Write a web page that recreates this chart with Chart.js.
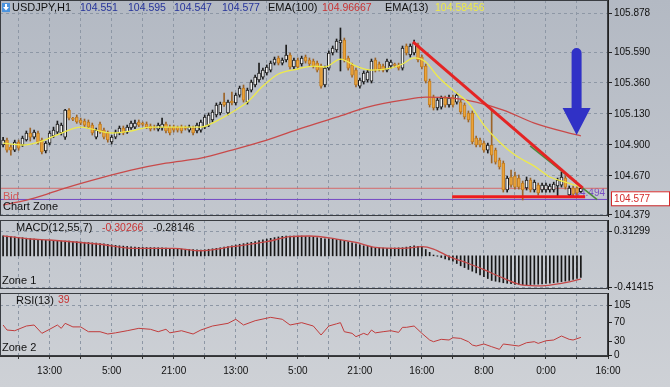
<!DOCTYPE html>
<html>
<head>
<meta charset="utf-8">
<script src="https://cdn.jsdelivr.net/npm/chart.js@4.4.1/dist/chart.umd.min.js"></script>
<style>
  html, body { margin: 0; padding: 0; }
  #wrap { position: relative; width: 670px; height: 387px; overflow: hidden;
          background: linear-gradient(#b3b9c3, #ced1d6); }
  canvas { position: absolute; left: 0; }
</style>
</head>
<body>
<div id="wrap">
  <canvas id="main" width="670" height="219" style="top:0"></canvas>
  <canvas id="macd" width="670" height="75" style="top:217px"></canvas>
  <canvas id="rsi" width="670" height="95" style="top:292px"></canvas>
</div>
<script>
// ---- data (USDJPY H1) ----
const opens = [
  104.899,104.936,104.884,104.861,104.921,104.899,104.936,104.988,104.958,104.988,
  104.936,104.854,104.913,104.966,104.995,104.988,104.958,105.159,105.092,105.107,
  105.085,105.077,105.070,105.047,104.958,105.055,105.010,104.988,104.921,104.958,
  104.988,105.025,104.995,105.025,105.032,105.070,105.055,105.055,105.040,105.032,
  105.017,105.025,105.055,105.032,105.032,105.032,105.032,105.025,105.010,105.025,
  105.003,105.010,105.032,105.047,105.085,105.122,105.137,105.218,105.137,105.226,
  105.211,105.270,105.322,105.218,105.307,105.345,105.382,105.404,105.434,105.456,
  105.508,105.546,105.508,105.531,105.568,105.479,105.531,105.501,105.553,105.531,
  105.523,105.508,105.486,105.345,105.471,105.583,105.605,105.657,105.679,105.546,
  105.494,105.456,105.337,105.367,105.382,105.374,105.531,105.501,105.486,105.456,
  105.486,105.494,105.494,105.471,105.635,105.568,105.583,105.642,105.553,105.486,
  105.374,105.255,105.174,105.181,105.248,105.196,105.255,105.218,105.218,105.196,
  105.137,105.137,104.951,104.936,104.913,104.861,104.899,104.861,104.787,104.765,
  104.564,104.661,104.668,104.653,104.616,104.579,104.638,104.564,104.601,104.564,
  104.564,104.564,104.564,104.594,104.601,104.653,104.527,104.579,104.579,104.551
];
const highs = [
  104.955,104.950,104.900,104.935,104.936,104.965,105.003,105.025,105.010,105.003,
  104.950,104.925,105.003,105.032,105.077,105.062,105.165,105.170,105.105,105.122,
  105.099,105.092,105.085,105.062,105.025,105.070,105.025,105.003,104.970,105.010,
  105.040,105.040,105.047,105.077,105.085,105.085,105.070,105.070,105.055,105.047,
  105.062,105.099,105.070,105.047,105.047,105.040,105.047,105.040,105.047,105.040,
  105.062,105.085,105.122,105.137,105.159,105.211,105.218,105.285,105.233,105.293,
  105.285,105.337,105.345,105.322,105.382,105.419,105.508,105.471,105.494,105.523,
  105.553,105.560,105.546,105.642,105.583,105.546,105.546,105.560,105.568,105.546,
  105.538,105.523,105.501,105.486,105.598,105.635,105.687,105.769,105.694,105.560,
  105.508,105.471,105.397,105.449,105.456,105.538,105.546,105.516,105.501,105.538,
  105.531,105.508,105.508,105.635,105.650,105.650,105.679,105.657,105.568,105.501,
  105.389,105.270,105.248,105.263,105.263,105.270,105.270,105.285,105.233,105.211,
  105.152,105.152,104.966,104.951,104.928,104.913,105.159,104.876,104.802,104.780,
  104.668,104.713,104.698,104.676,104.631,104.661,104.653,104.638,104.616,104.616,
  104.616,104.609,104.623,104.653,104.698,104.668,104.594,104.594,104.594,104.595
];
const lows = [
  104.885,104.845,104.824,104.850,104.860,104.888,104.928,104.928,104.945,104.906,
  104.832,104.840,104.900,104.955,104.980,104.973,104.940,105.085,105.080,105.060,
  105.050,105.035,105.020,104.973,104.945,104.985,104.945,104.920,104.906,104.945,
  104.975,104.975,104.985,105.015,105.020,105.035,105.040,105.020,105.003,105.010,
  105.003,105.010,104.988,104.973,104.995,104.995,104.988,105.010,104.995,104.973,
  104.988,104.995,105.020,105.035,105.070,105.107,105.122,105.185,105.122,105.196,
  105.196,105.255,105.218,105.203,105.293,105.330,105.367,105.389,105.419,105.442,
  105.494,105.494,105.494,105.516,105.464,105.464,105.464,105.486,105.508,105.486,
  105.471,105.442,105.322,105.330,105.456,105.568,105.590,105.449,105.516,105.456,
  105.404,105.330,105.322,105.352,105.367,105.360,105.442,105.449,105.442,105.442,
  105.471,105.479,105.456,105.456,105.568,105.553,105.568,105.516,105.464,105.360,
  105.181,105.159,105.159,105.166,105.181,105.181,105.181,105.203,105.129,105.092,
  105.070,104.906,104.884,104.884,104.846,104.839,104.765,104.757,104.720,104.549,
  104.549,104.586,104.571,104.571,104.490,104.564,104.549,104.549,104.527,104.549,
  104.549,104.549,104.549,104.512,104.586,104.571,104.512,104.520,104.527,104.547
];
const closes = [
  104.936,104.861,104.861,104.921,104.876,104.951,104.988,104.958,104.995,104.921,
  104.847,104.913,104.988,105.010,105.055,105.047,105.159,105.099,105.090,105.070,
  105.062,105.047,105.032,104.988,105.010,104.995,104.958,104.936,104.958,104.995,
  105.025,104.988,105.032,105.062,105.062,105.047,105.052,105.032,105.017,105.025,
  105.047,105.055,105.003,104.988,105.010,105.010,105.003,105.022,105.032,104.988,
  105.047,105.070,105.107,105.122,105.144,105.196,105.203,105.196,105.218,105.211,
  105.270,105.322,105.233,105.307,105.367,105.404,105.434,105.456,105.479,105.508,
  105.538,105.508,105.531,105.568,105.479,105.531,105.479,105.546,105.523,105.501,
  105.486,105.456,105.337,105.471,105.583,105.620,105.672,105.679,105.531,105.471,
  105.419,105.345,105.382,105.434,105.442,105.523,105.456,105.464,105.456,105.523,
  105.516,105.491,105.471,105.620,105.583,105.635,105.657,105.531,105.479,105.374,
  105.196,105.174,105.233,105.248,105.196,105.248,105.196,105.270,105.144,105.107,
  105.085,104.921,104.899,104.899,104.861,104.899,104.824,104.772,104.735,104.564,
  104.653,104.601,104.586,104.586,104.564,104.638,104.564,104.623,104.542,104.601,
  104.601,104.594,104.609,104.638,104.661,104.586,104.579,104.534,104.542,104.577
];

// moving averages (bar index -> value)
const ema13Idx = [0,5,10,15,20,23,28,33,38,44,51,55,60,63,67,71,76,80,83,87,91,95,100,103,106,109,112,116,120,124,128,132,137,141,145,149];
const ema13Val = [104.913,104.899,104.928,104.988,105.032,105.017,104.988,105.003,105.032,105.032,105.032,105.077,105.159,105.218,105.337,105.427,105.464,105.486,105.479,105.538,105.486,105.456,105.471,105.501,105.546,105.516,105.412,105.307,105.211,105.047,104.921,104.824,104.742,104.661,104.623,104.585];
const ema100Idx = [0,8,16,25,33,42,51,59,68,77,86,94,103,109,116,122,129,137,146,149];
const ema100Val = [104.452,104.504,104.579,104.653,104.712,104.764,104.801,104.861,104.935,105.024,105.106,105.180,105.232,105.255,105.248,105.218,105.159,105.062,104.988,104.967];

// MACD(12,55,7): histogram per bar, signal line sampled
const macdHist = [
  0.260,0.255,0.250,0.245,0.240,0.235,0.229,0.223,0.217,0.211,
  0.205,0.202,0.199,0.196,0.193,0.190,0.192,0.190,0.186,0.183,
  0.180,0.176,0.172,0.168,0.164,0.160,0.154,0.148,0.142,0.136,
  0.130,0.126,0.122,0.118,0.114,0.110,0.109,0.108,0.107,0.106,
  0.105,0.103,0.100,0.097,0.094,0.091,0.088,0.085,0.083,0.080,
  0.077,0.075,0.079,0.085,0.091,0.097,0.104,0.112,0.121,0.130,
  0.140,0.150,0.158,0.167,0.175,0.186,0.197,0.208,0.218,0.227,
  0.236,0.245,0.253,0.255,0.256,0.257,0.257,0.257,0.252,0.246,
  0.240,0.235,0.228,0.222,0.220,0.218,0.212,0.205,0.194,0.183,
  0.170,0.157,0.143,0.130,0.122,0.113,0.105,0.102,0.099,0.097,
  0.099,0.101,0.103,0.105,0.113,0.121,0.130,0.124,0.118,0.082,
  0.045,0.010,-0.005,-0.022,-0.040,-0.055,-0.070,-0.100,-0.130,-0.153,
  -0.177,-0.200,-0.223,-0.247,-0.270,-0.295,-0.320,-0.330,-0.340,-0.350,
  -0.357,-0.363,-0.370,-0.372,-0.374,-0.375,-0.373,-0.370,-0.368,-0.365,
  -0.360,-0.355,-0.350,-0.343,-0.335,-0.328,-0.320,-0.307,-0.294,-0.281
];
const sigIdx = [0,7,12,25,34,44,51,59,68,74,79,86,91,96,103,108,111,115,120,124,129,134,139,144,149];
const sigVal = [0.26,0.218,0.205,0.15,0.097,0.097,0.066,0.118,0.183,0.248,0.257,0.218,0.175,0.11,0.097,0.118,0.088,-0.01,-0.1,-0.18,-0.29,-0.38,-0.39,-0.357,-0.303];

// RSI(13)
const rsiIdx = [0,1,3,6,8,10,12,14,15,16,18,20,22,25,27,29,32,35,38,40,42,43,46,49,51,54,58,60,62,65,69,72,74,77,80,82,84,86,87,88,90,91,93,94,95,96,98,100,102,103,104,106,108,110,111,113,115,116,118,120,121,122,124,126,128,129,131,133,135,137,138,140,142,144,146,147,149];
const rsiVal = [64.5,54,52.5,62.4,64.5,47,55.5,64.5,57.5,68,60.5,60.5,50.4,50.4,45.6,48,52.5,57.5,55.5,50.4,55.5,48,52.5,45.6,54,62.4,68,76.5,64.5,73.5,80.6,76.5,64.5,69.4,62.4,43.5,62.4,67,69.4,50.4,47,40,47,43.5,54,48,50.4,52.5,49,59.6,59.6,62.4,47,33,29.4,34.4,33,37.8,36.4,29.4,22.5,20.4,24.6,18.9,13.4,24.6,22.5,20.4,27.3,29.4,25.9,31.4,33,41.4,34.4,33,38.5];

// axes
const gridIdx = [4,12,20,28,36,44,52,60,68,76,84,92,100,108,116,124,132,140,148,156];
const xTickIdx = [12,28,44,60,76,92,108,124,140,156];
const xTickLbl = ['13:00','5:00','21:00','13:00','5:00','21:00','16:00','8:00','0:00','16:00'];
const priceTicks = [104.379,104.670,104.900,105.130,105.360,105.590,105.878];
const macdTicks = [-0.41415,0.31299];
const rsiTicks = [0,30,70,105];

// drawn objects on the price panel
const bidPrice = 104.577;
const levelPrice = 104.494;
const supportPrice = 104.514;
const supportSpan = [115.8, 150.1];
const trendRed = [[105.7, 105.665], [149.5, 104.579]];
const trendGreen = [[135.9, 104.893], [153.2, 104.493]];
const arrowAt = { x: 147.9, top: 105.62, head: 105.174, tip: 104.973 };

// ---- chart setup ----
Chart.defaults.font.family = "'Liberation Sans', Arial, sans-serif";
Chart.defaults.font.size = 10;
Chart.defaults.color = '#111';

const GRID = '#8d97a5';
const pts = (xs, ys) => xs.map((x, k) => ({ x: x, y: ys[k] }));
const isUp = closes.map((c, i) => c >= opens[i]);

function xAxis(showLabels) {
  return {
    type: 'linear', min: -0.8, max: 156, offset: false,
    afterBuildTicks: s => { s.ticks = gridIdx.map(v => ({ value: v })); },
    ticks: {
      display: showLabels, autoSkip: false, maxRotation: 0, padding: 6,
      callback: v => { const k = xTickIdx.indexOf(v); return k < 0 ? '' : xTickLbl[k]; }
    },
    grid: { color: GRID, offset: false, drawTicks: showLabels, tickLength: 3, tickColor: '#333' },
    border: { display: showLabels, color: '#333', dash: [3, 3] },
    afterFit: s => { s.height = showLabels ? 31 : 0; s.paddingLeft = 0; s.paddingRight = 0; }
  };
}

function yAxis(min, max, ticks, fmt, gridColor) {
  return {
    position: 'right', min: min, max: max,
    afterBuildTicks: s => { s.ticks = ticks.map(v => ({ value: v })); },
    ticks: { callback: fmt, padding: 2, autoSkip: false },
    grid: { color: gridColor || GRID, tickLength: 4, tickColor: '#222' },
    border: { color: '#222', dash: [3, 3] },
    afterFit: s => { s.width = 62; s.paddingTop = 0; s.paddingBottom = 0; }
  };
}

const frame = {
  id: 'frame',
  afterDraw(c) {
    const a = c.chartArea, ctx = c.ctx;
    ctx.save();
    ctx.strokeStyle = '#3a3d42';
    ctx.lineWidth = 1;
    ctx.strokeRect(a.left + 0.5, a.top + 0.5, a.right - a.left - 1, a.bottom - a.top - 1);
    ctx.restore();
  }
};

function label(ctx, text, x, y, color, size) {
  ctx.font = size + "px 'Liberation Sans', Arial, sans-serif";
  ctx.fillStyle = color;
  ctx.textBaseline = 'middle';
  ctx.fillText(text, x, y);
}

const baseOpts = (pad) => ({
  responsive: false, animation: false, events: [], devicePixelRatio: 1,
  layout: { padding: pad },
  plugins: { legend: { display: false }, tooltip: { enabled: false } }
});

// ---- price panel ----
const priceDecor = {
  id: 'priceDecor',
  beforeDatasetsDraw(c) {
    const ctx = c.ctx, y = c.scales.y;
    ctx.save();
    ctx.textAlign = 'right';
    label(ctx, levelPrice.toFixed(3), 605, y.getPixelForValue(levelPrice) - 6, '#7a4fc4', 10);
    ctx.restore();
  },
  afterDatasetsDraw(c) {
    // blue arrow
    const ctx = c.ctx, xs = c.scales.x, ys = c.scales.y;
    const ax = xs.getPixelForValue(arrowAt.x);
    const top = ys.getPixelForValue(arrowAt.top);
    const head = ys.getPixelForValue(arrowAt.head);
    const tip = ys.getPixelForValue(arrowAt.tip);
    ctx.save();
    ctx.fillStyle = '#3031c6';
    ctx.beginPath();
    ctx.arc(ax, top + 5, 5, Math.PI, 0);
    ctx.lineTo(ax + 5, head);
    ctx.lineTo(ax + 14, head);
    ctx.lineTo(ax, tip);
    ctx.lineTo(ax - 14, head);
    ctx.lineTo(ax - 5, head);
    ctx.closePath();
    ctx.fill();
    ctx.restore();
  },
  afterDraw(c) {
    const ctx = c.ctx, ys = c.scales.y;
    ctx.save();
    // symbol icon
    ctx.fillStyle = '#4a93de';
    ctx.fillRect(2, 3, 8, 9);
    ctx.fillStyle = '#fff';
    ctx.fillRect(5, 4, 2, 3);
    ctx.beginPath();
    ctx.moveTo(3, 7); ctx.lineTo(9, 7); ctx.lineTo(6, 10.5); ctx.closePath(); ctx.fill();
    // header
    label(ctx, 'USDJPY,H1', 12, 8, '#111', 11);
    label(ctx, opens[149].toFixed(3), 80, 8, '#25339a', 10.5);
    label(ctx, highs[149].toFixed(3), 128, 8, '#25339a', 10.5);
    label(ctx, lows[149].toFixed(3), 174, 8, '#25339a', 10.5);
    label(ctx, closes[149].toFixed(3), 222, 8, '#25339a', 10.5);
    label(ctx, 'EMA(100)', 268, 8, '#111', 11);
    label(ctx, '104.96667', 322, 8, '#c83434', 10.5);
    label(ctx, 'EMA(13)', 385, 8, '#111', 11);
    label(ctx, '104.58456', 435, 8, '#eeea46', 10.5);
    // zone texts
    label(ctx, 'Bid', 3, 196.5, '#d25a5a', 11);
    label(ctx, 'Chart Zone', 3, 207, '#111', 11);
    // current price box
    const yb = ys.getPixelForValue(bidPrice);
    ctx.fillStyle = '#fff';
    ctx.fillRect(611, yb + 3, 58, 14);
    ctx.strokeStyle = '#d42a2a';
    ctx.strokeRect(611.5, yb + 3.5, 58, 14);
    label(ctx, bidPrice.toFixed(3), 614, yb + 10.5, '#d42a2a', 10);
    ctx.restore();
  }
};

new Chart(document.getElementById('main'), {
  type: 'bar',
  data: {
    datasets: [
      { type: 'line', data: [{ x: -0.8, y: bidPrice }, { x: 156, y: bidPrice }],
        borderColor: '#d46a6a', borderWidth: 1, pointRadius: 0, order: 9 },
      { type: 'line', data: [{ x: -0.8, y: levelPrice }, { x: 156, y: levelPrice }],
        borderColor: '#7448c4', borderWidth: 1, pointRadius: 0, order: 9 },
      { data: closes.map((c, i) => ({ x: i, y: [lows[i], highs[i]] })),
        backgroundColor: ctx => isUp[ctx.dataIndex] ? '#1c1c1c' : '#9c6428',
        barThickness: 1, grouped: false, order: 8 },
      { data: closes.map((c, i) => ({ x: i, y: [opens[i], c] })),
        backgroundColor: ctx => isUp[ctx.dataIndex] ? '#f2f2f2' : '#eba43a',
        borderColor: ctx => isUp[ctx.dataIndex] ? '#1c1c1c' : '#c27d22',
        borderWidth: 1, borderSkipped: false, barThickness: 3, minBarLength: 1,
        grouped: false, order: 7 },
      { type: 'line', data: pts(ema100Idx, ema100Val), borderColor: '#c84a4a',
        borderWidth: 1.3, pointRadius: 0, cubicInterpolationMode: 'monotone', order: 5 },
      { type: 'line', data: pts(ema13Idx, ema13Val), borderColor: '#eeea4a',
        borderWidth: 1.3, pointRadius: 0, cubicInterpolationMode: 'monotone', order: 4 },
      { type: 'line', data: trendGreen.map(p => ({ x: p[0], y: p[1] })),
        borderColor: '#4b8a3c', borderWidth: 1.5, pointRadius: 0, order: 3 },
      { type: 'line', data: trendRed.map(p => ({ x: p[0], y: p[1] })),
        borderColor: '#e42424', borderWidth: 3, pointRadius: 0, order: 2 },
      { type: 'line', data: supportSpan.map(x => ({ x: x, y: supportPrice })),
        borderColor: '#ee1c1c', borderWidth: 3, pointRadius: 0, order: 1 }
    ]
  },
  options: Object.assign(baseOpts({ top: 0, bottom: 3, left: 0, right: 0 }), {
    scales: {
      x: xAxis(false),
      y: yAxis(104.371, 105.977, priceTicks, v => v.toFixed(3))
    }
  }),
  plugins: [frame, priceDecor]
});

// ---- MACD panel ----
const macdText = {
  id: 'macdText',
  afterDraw(c) {
    const ctx = c.ctx;
    ctx.save();
    label(ctx, 'MACD(12,55,7)', 16, 11, '#111', 11);
    label(ctx, '-0.30266', 102, 11, '#c83434', 10.5);
    label(ctx, '-0.28146', 153, 11, '#111', 10.5);
    label(ctx, 'Zone 1', 2, 64, '#111', 11);
    ctx.restore();
  }
};

new Chart(document.getElementById('macd'), {
  type: 'bar',
  data: {
    datasets: [
      { data: macdHist.map((v, i) => ({ x: i, y: v })), backgroundColor: '#161616',
        barThickness: 1, grouped: false, order: 2 },
      { type: 'line', data: pts(sigIdx, sigVal), borderColor: '#c44848',
        borderWidth: 1.3, pointRadius: 0, cubicInterpolationMode: 'monotone', order: 1 }
    ]
  },
  options: Object.assign(baseOpts({ top: 3, bottom: 3, left: 0, right: 0 }), {
    scales: {
      x: xAxis(false),
      y: yAxis(-0.431, 0.465, macdTicks, v => v.toFixed(5))
    }
  }),
  plugins: [frame, macdText]
});

// ---- RSI panel ----
const rsiText = {
  id: 'rsiText',
  afterDraw(c) {
    const ctx = c.ctx;
    ctx.save();
    label(ctx, 'RSI(13)', 16, 8.5, '#111', 11);
    label(ctx, '39', 58, 8.5, '#c83434', 10.5);
    label(ctx, 'Zone 2', 2, 56, '#111', 11);
    ctx.restore();
  }
};

new Chart(document.getElementById('rsi'), {
  type: 'line',
  data: {
    datasets: [
      { data: pts(rsiIdx, rsiVal), borderColor: '#c03c3c', borderWidth: 1,
        pointRadius: 0, tension: 0 }
    ]
  },
  options: Object.assign(baseOpts({ top: 1, bottom: 0, left: 0, right: 0 }), {
    scales: {
      x: xAxis(true),
      y: yAxis(-0.6, 131.7, rsiTicks, v => String(v),
        ctx => ctx.tick && ctx.tick.value === 105 ? GRID : 'rgba(0,0,0,0)')
    }
  }),
  plugins: [frame, rsiText]
});
</script>
</body>
</html>
